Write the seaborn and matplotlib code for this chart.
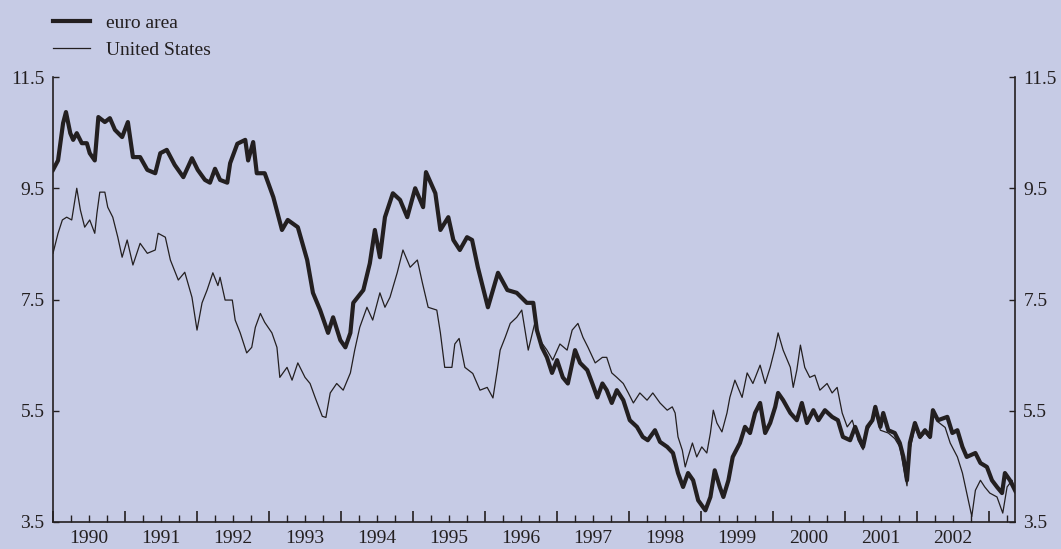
import numpy as np
import pandas as pd
import matplotlib
matplotlib.use("Agg")
from matplotlib import pyplot as plt
from matplotlib.ticker import FixedLocator, FixedFormatter
import seaborn as sns

# values (decimal year, yield %)
euro_t = [1990.00, 1990.07, 1990.14, 1990.18, 1990.24, 1990.28, 1990.33, 1990.40, 1990.47, 1990.51,
          1990.58, 1990.63, 1990.72, 1990.79, 1990.86, 1990.96, 1991.04, 1991.11, 1991.21, 1991.31,
          1991.42, 1991.49, 1991.58, 1991.69, 1991.81, 1991.93, 1992.01, 1992.11, 1992.18, 1992.25,
          1992.32, 1992.42, 1992.46, 1992.56, 1992.67, 1992.71, 1992.78, 1992.83, 1992.94, 1993.06,
          1993.18, 1993.26, 1993.40, 1993.53, 1993.61, 1993.71, 1993.82, 1993.89, 1993.99, 1994.06,
          1994.13, 1994.17, 1994.31, 1994.40, 1994.47, 1994.54, 1994.61, 1994.72, 1994.82, 1994.92,
          1995.03, 1995.14, 1995.18, 1995.31, 1995.38, 1995.49, 1995.56, 1995.65, 1995.75, 1995.82,
          1995.90, 1996.04, 1996.18, 1996.31, 1996.44, 1996.58, 1996.67, 1996.72, 1996.79, 1996.86,
          1996.93, 1997.00, 1997.08, 1997.15, 1997.25, 1997.32, 1997.42, 1997.49, 1997.56, 1997.63,
          1997.69, 1997.76, 1997.83, 1997.92, 1998.01, 1998.11, 1998.19, 1998.26, 1998.36, 1998.43,
          1998.53, 1998.61, 1998.68, 1998.75, 1998.82, 1998.89, 1998.96, 1999.06, 1999.13, 1999.19,
          1999.26, 1999.31, 1999.38, 1999.44, 1999.54, 1999.61, 1999.68, 1999.75, 1999.82, 1999.89,
          1999.96, 2000.03, 2000.07, 2000.14, 2000.24, 2000.33, 2000.40, 2000.47, 2000.56, 2000.63,
          2000.72, 2000.82, 2000.90, 2000.97, 2001.07, 2001.14, 2001.21, 2001.25, 2001.31, 2001.38,
          2001.42, 2001.49, 2001.53, 2001.60, 2001.69, 2001.76, 2001.81, 2001.86, 2001.90, 2001.97,
          2002.04, 2002.11, 2002.18, 2002.22, 2002.29, 2002.42, 2002.49, 2002.56, 2002.63, 2002.69,
          2002.81, 2002.88, 2002.97, 2003.04, 2003.11, 2003.18, 2003.22, 2003.29, 2003.36]
euro_v = [9.83, 10.00, 10.67, 10.87, 10.49, 10.37, 10.49, 10.31, 10.31, 10.13,
          10.00, 10.78, 10.69, 10.76, 10.55, 10.42, 10.69, 10.06, 10.06, 9.83,
          9.77, 10.13, 10.19, 9.92, 9.70, 10.04, 9.83, 9.65, 9.60, 9.85,
          9.65, 9.60, 9.95, 10.30, 10.37, 10.00, 10.33, 9.77, 9.77, 9.34,
          8.75, 8.93, 8.80, 8.21, 7.62, 7.31, 6.90, 7.18, 6.77, 6.64,
          6.90, 7.44, 7.67, 8.15, 8.75, 8.26, 8.98, 9.41, 9.29, 8.98,
          9.50, 9.16, 9.79, 9.41, 8.75, 8.98, 8.57, 8.39, 8.62, 8.57,
          8.08, 7.36, 7.98, 7.67, 7.62, 7.44, 7.44, 6.95, 6.64, 6.46,
          6.18, 6.41, 6.10, 5.99, 6.59, 6.36, 6.23, 5.99, 5.74, 5.99,
          5.87, 5.64, 5.87, 5.69, 5.33, 5.21, 5.03, 4.97, 5.15, 4.94,
          4.85, 4.74, 4.38, 4.13, 4.38, 4.25, 3.89, 3.71, 3.95, 4.43,
          4.13, 3.95, 4.25, 4.67, 4.92, 5.21, 5.10, 5.46, 5.64, 5.10,
          5.28, 5.57, 5.82, 5.69, 5.46, 5.33, 5.64, 5.28, 5.51, 5.33,
          5.51, 5.39, 5.33, 5.03, 4.97, 5.21, 4.97, 4.85, 5.21, 5.33,
          5.57, 5.21, 5.46, 5.15, 5.10, 4.92, 4.67, 4.25, 4.92, 5.28,
          5.03, 5.15, 5.03, 5.51, 5.33, 5.39, 5.10, 5.15, 4.85, 4.67,
          4.74, 4.56, 4.49, 4.25, 4.13, 4.02, 4.38, 4.25, 4.07]

us_t = [1990.00, 1990.07, 1990.13, 1990.19, 1990.26, 1990.33, 1990.38, 1990.44, 1990.51, 1990.58,
        1990.61, 1990.65, 1990.72, 1990.76, 1990.83, 1990.90, 1990.96, 1991.03, 1991.11, 1991.21,
        1991.31, 1991.42, 1991.46, 1991.56, 1991.63, 1991.74, 1991.83, 1991.93, 1992.00, 1992.07,
        1992.14, 1992.22, 1992.29, 1992.32, 1992.39, 1992.49, 1992.53, 1992.60, 1992.69, 1992.76,
        1992.81, 1992.88, 1992.94, 1993.04, 1993.11, 1993.15, 1993.25, 1993.32, 1993.40, 1993.50,
        1993.57, 1993.64, 1993.74, 1993.79, 1993.85, 1993.94, 1994.03, 1994.13, 1994.19, 1994.26,
        1994.36, 1994.44, 1994.54, 1994.61, 1994.68, 1994.78, 1994.86, 1994.96, 1995.06, 1995.13,
        1995.21, 1995.33, 1995.38, 1995.44, 1995.54, 1995.58, 1995.64, 1995.72, 1995.83, 1995.93,
        1996.03, 1996.11, 1996.17, 1996.21, 1996.28, 1996.35, 1996.44, 1996.51, 1996.60, 1996.69,
        1996.76, 1996.86, 1996.94, 1997.04, 1997.14, 1997.21, 1997.29, 1997.36, 1997.43, 1997.53,
        1997.63, 1997.69, 1997.76, 1997.83, 1997.92, 1997.99, 1998.06, 1998.15, 1998.25, 1998.33,
        1998.43, 1998.53, 1998.60, 1998.64, 1998.68, 1998.74, 1998.78, 1998.82, 1998.88, 1998.94,
        1999.01, 1999.08, 1999.13, 1999.17, 1999.22, 1999.29, 1999.36, 1999.40, 1999.47, 1999.57,
        1999.64, 1999.72, 1999.82, 1999.89, 1999.96, 2000.03, 2000.07, 2000.14, 2000.24, 2000.28,
        2000.33, 2000.38, 2000.44, 2000.51, 2000.58, 2000.65, 2000.75, 2000.82, 2000.89, 2000.96,
        2001.03, 2001.10, 2001.18, 2001.25, 2001.31, 2001.38, 2001.42, 2001.49, 2001.60, 2001.69,
        2001.76, 2001.81, 2001.86, 2001.90, 2001.97, 2002.04, 2002.11, 2002.18, 2002.22, 2002.29,
        2002.39, 2002.46, 2002.56, 2002.63, 2002.69, 2002.76, 2002.81, 2002.88, 2002.94, 2003.01,
        2003.11, 2003.19, 2003.25, 2003.32, 2003.36]
us_v = [8.33, 8.69, 8.93, 8.98, 8.93, 9.50, 9.11, 8.80, 8.93, 8.69,
        9.05, 9.43, 9.43, 9.16, 8.98, 8.62, 8.26, 8.57, 8.12, 8.51,
        8.33, 8.39, 8.69, 8.62, 8.21, 7.85, 7.99, 7.54, 6.95, 7.44,
        7.67, 7.98, 7.75, 7.90, 7.49, 7.49, 7.13, 6.90, 6.54, 6.64,
        7.00, 7.25, 7.09, 6.90, 6.64, 6.10, 6.28, 6.05, 6.36, 6.10,
        5.99, 5.74, 5.40, 5.38, 5.82, 5.99, 5.87, 6.18, 6.59, 7.00,
        7.36, 7.13, 7.62, 7.36, 7.54, 7.98, 8.39, 8.08, 8.21, 7.80,
        7.36, 7.31, 6.90, 6.28, 6.28, 6.70, 6.80, 6.28, 6.17, 5.87,
        5.92, 5.73, 6.23, 6.59, 6.82, 7.07, 7.18, 7.31, 6.59, 7.07,
        6.77, 6.59, 6.41, 6.70, 6.59, 6.95, 7.07, 6.82, 6.64, 6.36,
        6.46, 6.46, 6.18, 6.10, 5.99, 5.82, 5.64, 5.82, 5.69, 5.82,
        5.64, 5.51, 5.57, 5.46, 5.03, 4.79, 4.49, 4.67, 4.92, 4.67,
        4.85, 4.74, 5.10, 5.51, 5.28, 5.12, 5.46, 5.74, 6.05, 5.74,
        6.18, 5.99, 6.32, 5.99, 6.28, 6.64, 6.90, 6.59, 6.28, 5.92,
        6.23, 6.68, 6.28, 6.10, 6.14, 5.87, 5.99, 5.82, 5.92, 5.46,
        5.21, 5.33, 4.97, 4.80, 5.15, 5.30, 5.50, 5.15, 5.10, 5.00,
        4.85, 4.50, 4.15, 4.80, 5.20, 5.00, 5.10, 5.00, 5.45, 5.30,
        5.20, 4.92, 4.67, 4.38, 4.02, 3.60, 4.07, 4.25, 4.13, 4.02,
        3.95, 3.66, 4.13, 4.25, 4.02]

series_names = ['euro area', 'United States']
year_labels = [str(y) for y in range(1990, 2003)]
y_ticks = [3.5, 5.5, 7.5, 9.5, 11.5]

bg = '#c6cbe5'
ink = '#231f20'

plt.rcParams['font.family'] = ['Liberation Serif', 'DejaVu Serif']
plt.rcParams['font.size'] = 14

euro = pd.DataFrame({'t': euro_t, 'v': euro_v})
us = pd.DataFrame({'t': us_t, 'v': us_v})

fig = plt.figure(figsize=(10.61, 5.49), dpi=100, facecolor=bg)
ax = fig.add_axes([53 / 1061, 1 - 522 / 549, (1015 - 53) / 1061, (522 - 77) / 549])
ax.set_facecolor(bg)

sns.lineplot(data=us, x='t', y='v', ax=ax, color=ink, linewidth=0.9, label=series_names[1])
sns.lineplot(data=euro, x='t', y='v', ax=ax, color=ink, linewidth=3.0, label=series_names[0])

ax.set_xlim(1990, 2003.36)
ax.set_ylim(3.5, 11.5)
ax.set_xlabel('')
ax.set_ylabel('')

# years: long ticks at year boundaries, short ticks per quarter, label mid-year
ax.xaxis.set_major_locator(FixedLocator(list(range(1990, 2004))))
ax.xaxis.set_major_formatter(FixedFormatter([''] * 14))
minor_pos = []
minor_lab = []
for y in range(1990, 2004):
    for q, lab in [(0.25, ''), (0.5, str(y) if str(y) in year_labels else ''), (0.75, '')]:
        minor_pos.append(y + q)
        minor_lab.append(lab)
ax.xaxis.set_minor_locator(FixedLocator(minor_pos))
ax.xaxis.set_minor_formatter(FixedFormatter(minor_lab))
ax.tick_params(axis='x', which='major', direction='in', length=8, width=1.2, color=ink)
ax.tick_params(axis='x', which='minor', direction='in', length=5, width=1.0, color=ink,
               labelsize=14, pad=6, labelcolor=ink)

ax.set_yticks(y_ticks)
ax.set_yticklabels([f'{v:.1f}' for v in y_ticks])
ax.tick_params(axis='y', which='both', direction='in', length=4, width=1.0, color=ink,
               labelsize=14, pad=6, labelcolor=ink, right=True, labelright=True)

for side in ['left', 'right', 'bottom']:
    ax.spines[side].set_color(ink)
    ax.spines[side].set_linewidth(1.2)
ax.spines['top'].set_visible(False)

h, l = ax.get_legend_handles_labels()
ax.legend(h[::-1], l[::-1], loc='upper left', bbox_to_anchor=(53 / 1061, 1 - 14 / 549),
          bbox_transform=fig.transFigure, frameon=False, borderpad=0, borderaxespad=0,
          handlelength=1.9, handletextpad=0.85, labelspacing=0.5, fontsize=14, labelcolor=ink)

fig.savefig('out.png', dpi=100, facecolor=bg)
